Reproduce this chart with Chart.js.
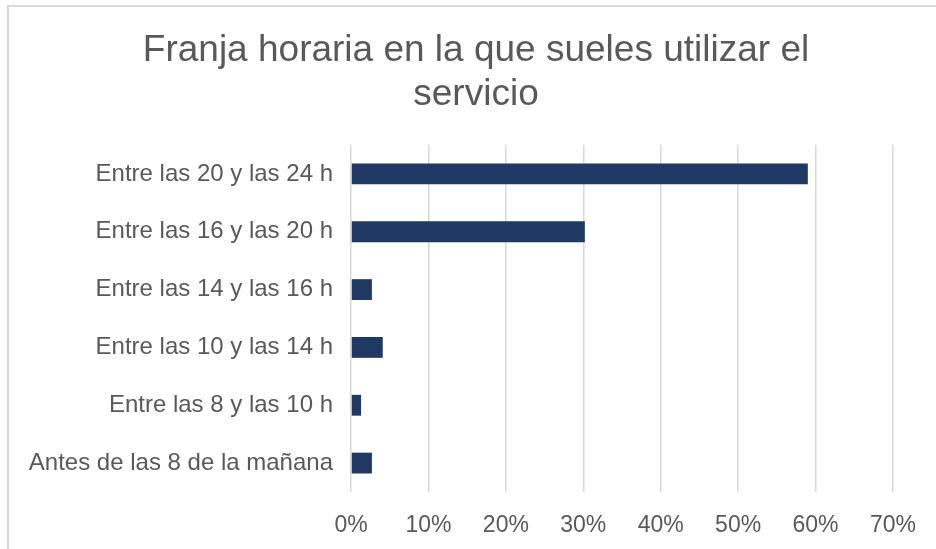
<!DOCTYPE html>
<html>
<head>
<meta charset="utf-8">
<script src="https://cdn.jsdelivr.net/npm/chart.js@4.4.1/dist/chart.umd.min.js"></script>
<style>
html,body{margin:0;padding:0;background:#fff;}
#wrap{width:936px;height:549px;position:relative;}
</style>
</head>
<body>
<div id="wrap"><canvas id="c" width="936" height="549"></canvas></div>
<script>
const categories = [
  'Entre las 20 y las 24 h',
  'Entre las 16 y las 20 h',
  'Entre las 14 y las 16 h',
  'Entre las 10 y las 14 h',
  'Entre las 8 y las 10 h',
  'Antes de las 8 de la mañana'
];
const values = [0.590, 0.302, 0.027, 0.041, 0.013, 0.027];
const titleLines = ['Franja horaria en la que sueles utilizar el', 'servicio'];
const xMax = 0.7;
const xStep = 0.1;

const FONT = 'Liberation Sans, Arial, sans-serif';

const frame = {
  id: 'frame',
  beforeDraw(chart) {
    const ctx = chart.ctx;
    ctx.save();
    ctx.fillStyle = '#ffffff';
    ctx.fillRect(0, 0, chart.width, chart.height);
    ctx.strokeStyle = '#d9d9d9';
    ctx.lineWidth = 2;
    ctx.strokeRect(8, 6, 960, 600);
    ctx.restore();
  },
  afterDraw(chart) {
    const ctx = chart.ctx;
    ctx.save();
    ctx.fillStyle = '#595959';
    ctx.font = '37px ' + FONT;
    ctx.textAlign = 'center';
    ctx.textBaseline = 'middle';
    ctx.fillText(titleLines[0], 476, 51);
    ctx.fillText(titleLines[1], 476, 95);
    ctx.restore();
  }
};

new Chart(document.getElementById('c'), {
  type: 'bar',
  data: {
    labels: categories,
    datasets: [{
      data: values,
      backgroundColor: '#203864',
      borderWidth: 0,
      barPercentage: 0.36,
      categoryPercentage: 1
    }]
  },
  options: {
    indexAxis: 'y',
    responsive: false,
    animation: false,
    layout: { padding: { top: 145, left: 10, right: 43, bottom: 0 } },
    plugins: {
      legend: { display: false },
      tooltip: { enabled: false },
      title: { display: false }
    },
    scales: {
      x: {
        min: 0,
        max: xMax,
        ticks: {
          stepSize: xStep,
          color: '#595959',
          font: { family: FONT, size: 23 },
          padding: 20,
          maxRotation: 0,
          autoSkip: false,
          callback: v => Math.round(v * 100) + '%'
        },
        grid: { color: '#d9d9d9', lineWidth: 1.5, drawTicks: false },
        border: { display: false },
        afterFit(scale) { scale.height = 57; }
      },
      y: {
        ticks: {
          color: '#595959',
          font: { family: FONT, size: 24 },
          padding: 18
        },
        grid: { display: false, drawTicks: false },
        border: { display: false },
        afterFit(scale) { scale.width = 341; }
      }
    }
  },
  plugins: [frame]
});
</script>
</body>
</html>
